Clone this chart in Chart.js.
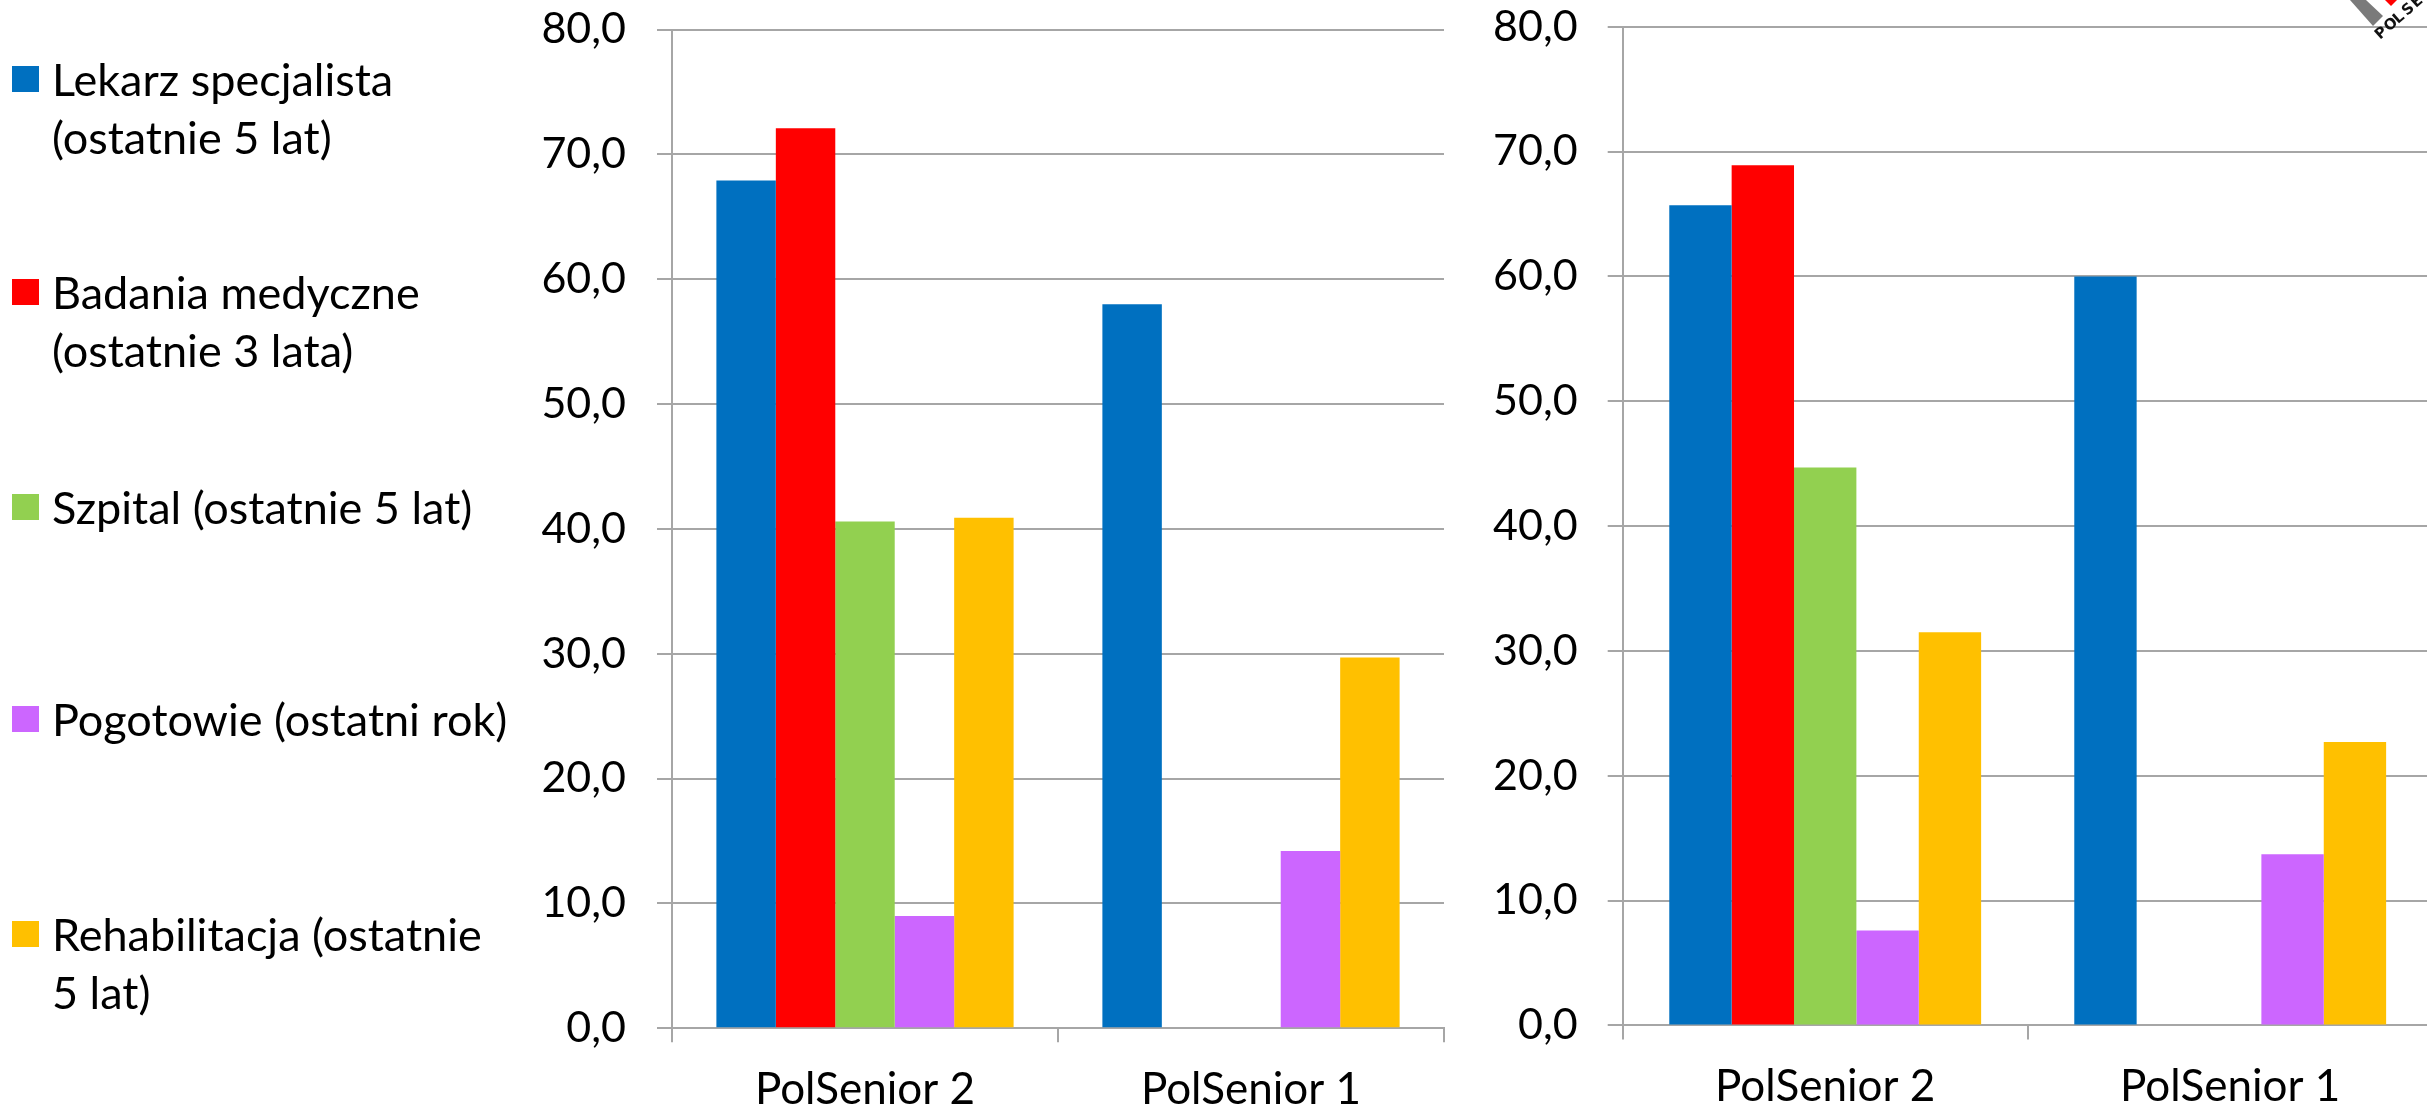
<!DOCTYPE html>
<html>
<head>
<meta charset="utf-8">
<script src="https://cdn.jsdelivr.net/npm/chart.js@4.4.1/dist/chart.umd.min.js"></script>
<style>
  html, body { margin: 0; padding: 0; background: #ffffff; overflow: hidden; width: 2427px; height: 1108px; }
  #c1 { position: absolute; left: 0; top: 0; }
  #c2 { position: absolute; left: 1460px; top: 0; }
</style>
</head>
<body>
<canvas id="c1" width="1460" height="1108"></canvas>
<canvas id="c2" width="980" height="1108"></canvas>
<script>
// Survey waves shown on the category axis
const categories = ['PolSenior 2', 'PolSenior 1'];

// Series names (line breaks mark where the legend wraps)
const seriesNames = [
  'Lekarz specjalista\n(ostatnie 5 lat)',
  'Badania medyczne\n(ostatnie 3 lata)',
  'Szpital (ostatnie 5 lat)',
  'Pogotowie (ostatni rok)',
  'Rehabilitacja (ostatnie\n5 lat)'
];
const seriesColors = ['#0070C0', '#FF0000', '#92D050', '#CC66FF', '#FFC000'];

// Left panel, % of respondents
const leftSpecialist = [67.9, 58.0];
const leftTests      = [72.1, null];
const leftHospital   = [40.6, null];
const leftEmergency  = [9.0, 14.2];
const leftRehab      = [40.9, 29.7];

// Right panel, % of respondents
const rightSpecialist = [65.7, 60.0];
const rightTests      = [68.9, null];
const rightHospital   = [44.7, null];
const rightEmergency  = [7.6, 13.7];
const rightRehab      = [31.5, 22.7];

// Value axis
const yMin = 0, yMax = 80, yStep = 10;

const FONT = 'Lato';
const GRID = '#a6a6a6';

function makeDatasets(series) {
  return series.map((values, i) => ({
    label: seriesNames[i].replace('\n', ' '),
    data: values,
    backgroundColor: seriesColors[i],
    borderWidth: 0,
    categoryPercentage: 0.77,
    barPercentage: 1.0
  }));
}

function axisOptions(yAxisWidth, xAxisHeight, labelPad) {
  return {
    x: {
      offset: true,
      grid: { display: true, drawOnChartArea: false, drawTicks: true, tickLength: 14, color: GRID, lineWidth: 2 },
      border: { display: true, color: GRID, width: 2 },
      ticks: { color: '#000', font: { family: FONT, size: 44 }, padding: 21, maxRotation: 0 },
      afterFit: (s) => { s.height = xAxisHeight; s.paddingLeft = 0; s.paddingRight = 0; }
    },
    y: {
      min: yMin, max: yMax,
      grid: { color: GRID, lineWidth: 2, tickLength: 15, drawTicks: true },
      border: { display: true, color: GRID, width: 2 },
      ticks: {
        stepSize: yStep,
        color: '#000',
        font: { family: FONT, size: 43 },
        padding: labelPad,
        callback: (v) => v.toFixed(1).replace('.', ',')
      },
      afterFit: (s) => { s.width = yAxisWidth; s.paddingTop = 0; s.paddingBottom = 0; }
    }
  };
}

// Legend drawn at the left of the first panel
const sideLegend = {
  id: 'sideLegend',
  afterDraw(chart) {
    const ctx = chart.ctx;
    const centers = [79, 292, 507, 719, 934];
    const lineGap = 58.5;
    ctx.save();
    ctx.font = '45px ' + FONT;
    ctx.textBaseline = 'middle';
    ctx.textAlign = 'left';
    seriesNames.forEach((name, i) => {
      const cy = centers[i];
      ctx.fillStyle = seriesColors[i];
      ctx.fillRect(12, cy - 13, 27, 26);
      ctx.fillStyle = '#000';
      name.split('\n').forEach((line, j) => {
        ctx.fillText(line, 52, cy + 2 + j * lineGap);
      });
    });
    ctx.restore();
  }
};

// Small PolSenior corner mark on the second panel
const cornerMark = {
  id: 'cornerMark',
  afterDraw(chart) {
    const ctx = chart.ctx;
    const ox = -1460;
    ctx.save();
    ctx.fillStyle = '#7a7a7a';
    ctx.beginPath();
    ctx.moveTo(2350 + ox, 0); ctx.lineTo(2366 + ox, 0); ctx.lineTo(2383 + ox, 16); ctx.lineTo(2373 + ox, 26);
    ctx.closePath(); ctx.fill();
    ctx.fillStyle = '#ff0000';
    ctx.beginPath();
    ctx.moveTo(2385 + ox, 0); ctx.lineTo(2397 + ox, 0); ctx.lineTo(2391 + ox, 6);
    ctx.closePath(); ctx.fill();
    ctx.translate(2380 + ox, 40);
    ctx.rotate(-0.72);
    ctx.fillStyle = '#111111';
    ctx.font = 'bold 15px "DejaVu Sans"';
    ctx.textBaseline = 'alphabetic';
    const word = 'POLSENIOR';
    for (let k = 0; k < word.length; k++) {
      ctx.fillText(word[k], k * 12, 0);
    }
    ctx.restore();
  }
};

const common = {
  responsive: false,
  animation: false,
  devicePixelRatio: 1,
  plugins: { legend: { display: false }, tooltip: { enabled: false } }
};

new Chart(document.getElementById('c1'), {
  type: 'bar',
  data: {
    labels: categories,
    datasets: makeDatasets([leftSpecialist, leftTests, leftHospital, leftEmergency, leftRehab])
  },
  options: Object.assign({}, common, {
    layout: { padding: { left: 0, top: 29.5, right: 16, bottom: 0 } },
    scales: axisOptions(672, 1108 - 1028.3, 31)
  }),
  plugins: [sideLegend]
});

new Chart(document.getElementById('c2'), {
  type: 'bar',
  data: {
    labels: categories,
    datasets: makeDatasets([rightSpecialist, rightTests, rightHospital, rightEmergency, rightRehab])
  },
  options: Object.assign({}, common, {
    layout: { padding: { left: 0, top: 26.7, right: 7.3, bottom: 0 } },
    scales: axisOptions(162.7, 1108 - 1025.4, 30)
  }),
  plugins: [cornerMark]
});
</script>
</body>
</html>
